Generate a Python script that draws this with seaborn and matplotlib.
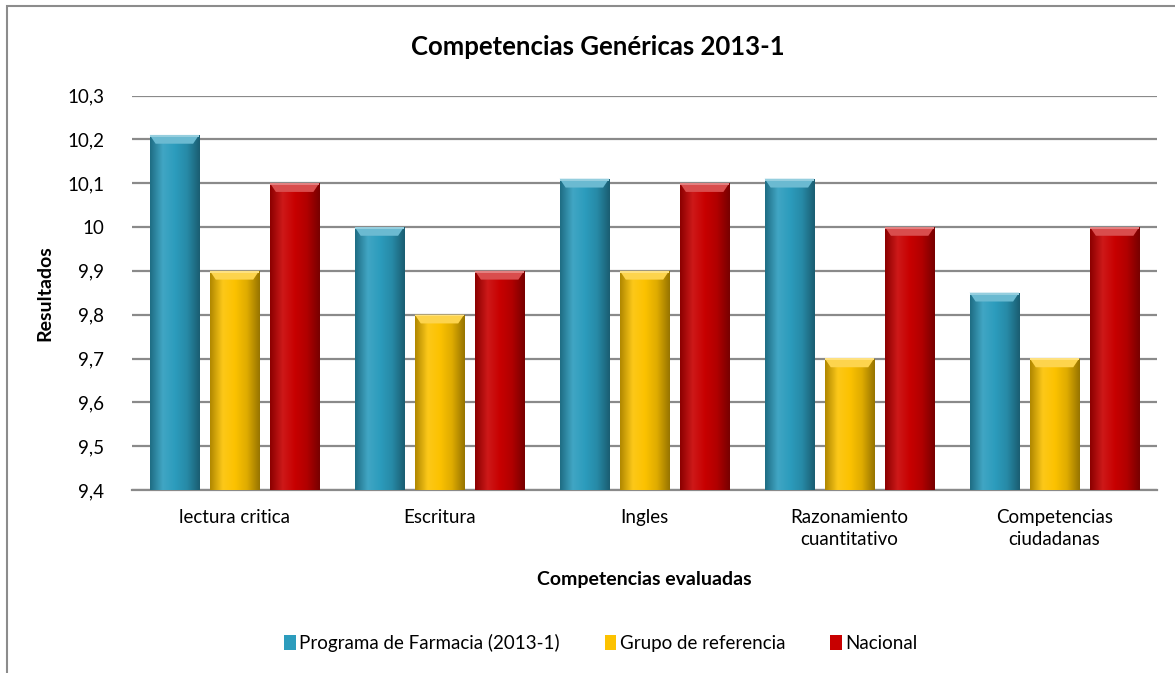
import numpy as np
import pandas as pd
import matplotlib
matplotlib.use("Agg")
import matplotlib.pyplot as plt
import seaborn as sns
from matplotlib.ticker import FuncFormatter, MultipleLocator
from matplotlib.colors import LinearSegmentedColormap, to_rgb
from matplotlib.patches import Rectangle, Polygon, Patch

categories = ["lectura critica", "Escritura", "Ingles", "Razonamiento\ncuantitativo", "Competencias\nciudadanas"]
series_names = ["Programa de Farmacia (2013-1)", "Grupo de referencia", "Nacional"]
programa = [10.21, 10.0, 10.11, 10.11, 9.85]
grupo = [9.9, 9.8, 9.9, 9.7, 9.7]
nacional = [10.1, 9.9, 10.1, 10.0, 10.0]
colors = ["#2c9cbd", "#fcc200", "#c80000"]

title = "Competencias Genéricas 2013-1"
xlabel = "Competencias evaluadas"
ylabel = "Resultados"

df = pd.DataFrame({
    "Competencia": categories * 3,
    "Serie": [series_names[0]] * 5 + [series_names[1]] * 5 + [series_names[2]] * 5,
    "Valor": programa + grupo + nacional,
})

sns.set_theme(style="white")
plt.rcParams["font.family"] = ["Lato", "DejaVu Sans"]
plt.rcParams["text.color"] = "black"
plt.rcParams["axes.labelcolor"] = "black"

fig = plt.figure(figsize=(11.75, 6.73), dpi=100)
W, H = 1175, 673
ax = fig.add_axes([132 / W, 1 - 490 / H, (1157 - 132) / W, (490 - 95.5) / H])

sns.barplot(data=df, x="Competencia", y="Valor", hue="Serie", palette=colors,
            width=0.88, gap=0.18, ax=ax, legend=False, saturation=1,
            edgecolor="none", linewidth=0, zorder=3)

ax.set_ylim(9.4, 10.3)
ax.yaxis.set_major_locator(MultipleLocator(0.1))

def fmt(v, pos):
    s = f"{v:.1f}"
    if s.endswith(".0"):
        s = s[:-2]
    return s.replace(".", ",")

ax.yaxis.set_major_formatter(FuncFormatter(fmt))
ax.grid(axis="y", color="#8a8a8a", linewidth=1.6, zorder=0)
ax.set_axisbelow(True)
for side in ["top", "right", "left"]:
    ax.spines[side].set_visible(False)
ax.spines["bottom"].set_color("#8a8a8a")
ax.spines["bottom"].set_linewidth(1.6)
ax.tick_params(axis="y", length=0, pad=20, labelsize=13.5, labelcolor="black")
ax.tick_params(axis="x", length=0, pad=14, labelsize=13.5, labelcolor="black")
for lbl in ax.get_xticklabels():
    lbl.set_linespacing(1.35)
ax.set_xlabel(xlabel, fontsize=14, fontweight="bold", labelpad=16, color="black")
ax.set_ylabel(ylabel, fontsize=14, fontweight="bold", labelpad=10, color="black")

def shade(c, f):
    r = np.array(to_rgb(c))
    if f >= 0:
        return tuple(r + (1 - r) * f)
    return tuple(r * (1 + f))

bar_patches = list(ax.patches)
for patch in bar_patches:
    col = patch.get_facecolor()[:3]
    x0, y0 = patch.get_x(), patch.get_y()
    w, h = patch.get_width(), patch.get_height()
    top = y0 + h
    cmap = LinearSegmentedColormap.from_list(
        "g", [shade(col, -0.3), shade(col, 0.1), col, shade(col, -0.12), shade(col, -0.4)])
    grad = np.linspace(0, 1, 64).reshape(1, -1)
    im = ax.imshow(grad, extent=[x0, x0 + w, 9.4, top], cmap=cmap, aspect="auto",
                   zorder=4, interpolation="bicubic")
    im.set_clip_path(patch)
    bh = 0.02
    ax.add_patch(Polygon([(x0, top), (x0 + w, top), (x0 + w * 0.88, top - bh), (x0 + w * 0.12, top - bh)],
                         closed=True, facecolor=shade(col, 0.3), edgecolor="none", zorder=5))
    ax.add_patch(Rectangle((x0, top - 0.004), w, 0.004, facecolor=shade(col, 0.5),
                           edgecolor="none", zorder=6))
ax.set_xlim(-0.5, 4.5)
ax.set_ylim(9.4, 10.3)

fig.text(598 / W, 1 - 47 / H, title, ha="center", va="center",
         fontsize=18.5, fontweight="bold", color="black")

handles = [Patch(facecolor=c, edgecolor="none") for c in colors]
fig.legend(handles, series_names, loc="center", bbox_to_anchor=(601 / W, 1 - 643 / H),
           ncol=3, frameon=False, fontsize=13.5, handlelength=0.6, handleheight=0.8,
           handletextpad=0.2, columnspacing=2.4, labelcolor="black")

fig.patches.append(Rectangle((7 / W, -0.05), 1.1, 1 - 6 / H + 0.05, transform=fig.transFigure,
                             fill=False, edgecolor="#8c8c8c", linewidth=1.5))

fig.savefig("out.png", dpi=100, facecolor="white")
